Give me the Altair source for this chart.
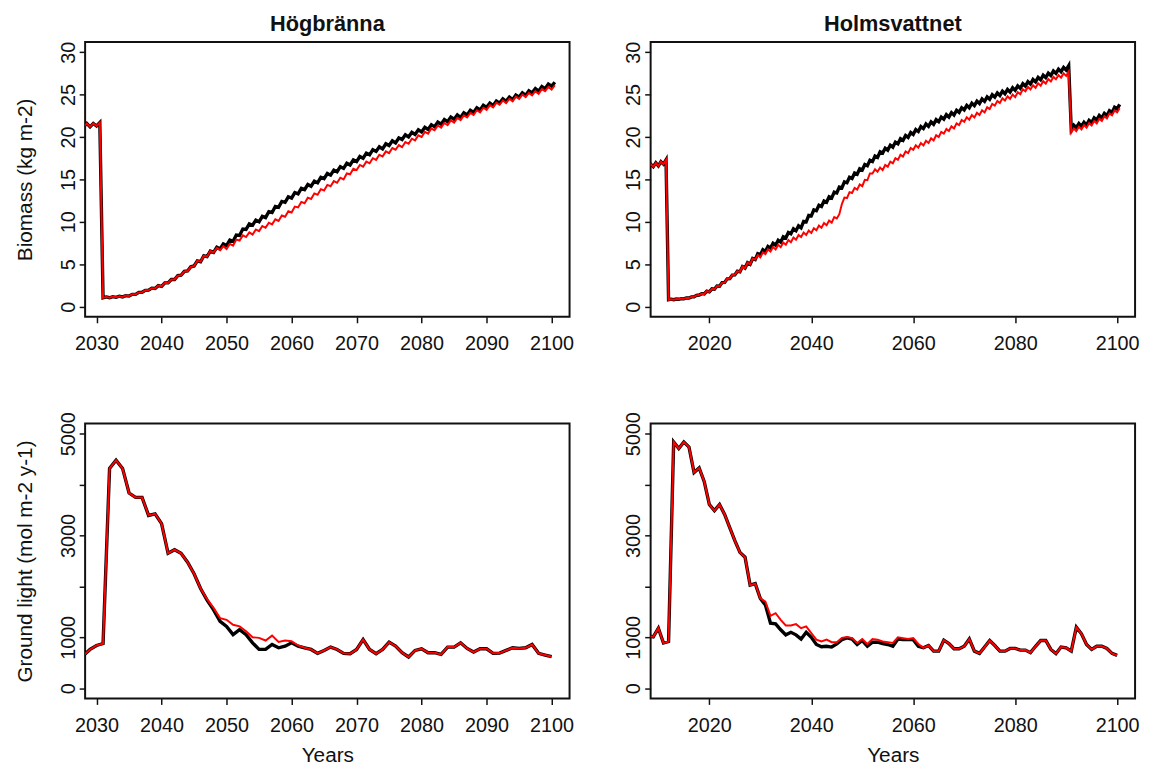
import altair as alt
import pandas as pd

FONT = "Liberation Sans"

# ---------------- Biomass, Högbränna (years 2028..2100; low at year, high at year+0.5)
hog_bio_years = list(range(2028, 2101))
hog_bio_black_low = [21.2, 21.2, 21.3,
    1.05, 1.05, 1.1, 1.15, 1.25, 1.45, 1.7, 1.95, 2.15, 2.4,
    2.8, 3.2, 3.7, 4.2, 4.8, 5.3, 5.9, 6.4, 6.8, 7.2,
    7.7, 8.4, 9.1, 9.6, 10.0, 10.5, 11.1, 11.7, 12.3, 12.8,
    13.3, 13.8, 14.2, 14.6, 15.1, 15.5, 15.9, 16.3, 16.7, 17.1,
    17.5, 17.9, 18.3, 18.6, 19.0, 19.3, 19.7, 20.0, 20.3, 20.6,
    20.9, 21.2, 21.5, 21.8, 22.1, 22.3, 22.6, 22.9, 23.2, 23.5,
    23.7, 24.0, 24.2, 24.4, 24.7, 24.9, 25.2, 25.4, 25.7, 26.0]
hog_bio_black_high = [21.6, 21.6, 21.7,
    1.15, 1.18, 1.23, 1.3, 1.45, 1.68, 1.93, 2.18, 2.48, 2.8,
    3.2, 3.65, 4.15, 4.7, 5.4, 6.0, 6.55, 7.0, 7.4, 7.85,
    8.45, 9.15, 9.75, 10.2, 10.65, 11.2, 11.8, 12.4, 12.95, 13.45,
    13.95, 14.4, 14.8, 15.25, 15.7, 16.1, 16.5, 16.9, 17.3, 17.7,
    18.1, 18.5, 18.85, 19.2, 19.55, 19.9, 20.25, 20.55, 20.85, 21.15,
    21.45, 21.75, 22.05, 22.35, 22.6, 22.85, 23.15, 23.45, 23.75, 24.0,
    24.25, 24.5, 24.7, 24.95, 25.2, 25.45, 25.7, 25.95, 26.25, 26.45]
hog_bio_red_low = [21.2, 21.2, 21.3,
    1.05, 1.05, 1.1, 1.15, 1.25, 1.45, 1.7, 1.95, 2.15, 2.4,
    2.8, 3.2, 3.7, 4.2, 4.8, 5.3, 5.9, 6.4, 6.65, 6.8,
    7.2, 7.8, 8.2, 8.5, 8.9, 9.3, 9.7, 10.1, 10.6, 11.1,
    11.7, 12.2, 12.7, 13.2, 13.7, 14.2, 14.6, 15.0, 15.6, 16.1,
    16.5, 16.9, 17.3, 17.7, 18.1, 18.5, 18.8, 19.2, 19.6, 20.0,
    20.4, 20.8, 21.1, 21.4, 21.7, 22.0, 22.3, 22.6, 22.9, 23.2,
    23.5, 23.8, 24.0, 24.2, 24.5, 24.7, 24.9, 25.1, 25.4, 25.6]
hog_bio_red_high = [21.6, 21.6, 21.7,
    1.15, 1.18, 1.23, 1.3, 1.45, 1.68, 1.93, 2.18, 2.48, 2.8,
    3.2, 3.65, 4.15, 4.7, 5.4, 6.0, 6.55, 6.93, 7.13, 7.4,
    7.9, 8.4, 8.75, 9.1, 9.5, 9.9, 10.3, 10.75, 11.25, 11.8,
    12.35, 12.85, 13.35, 13.85, 14.35, 14.8, 15.2, 15.7, 16.25, 16.7,
    17.1, 17.5, 17.9, 18.3, 18.7, 19.05, 19.4, 19.8, 20.2, 20.6,
    21.0, 21.35, 21.65, 21.95, 22.25, 22.55, 22.85, 23.15, 23.45, 23.75,
    24.05, 24.3, 24.5, 24.75, 25.0, 25.2, 25.4, 25.65, 25.9, 26.1]

# ---------------- Biomass, Holmsvattnet (years 2008..2100)
hol_bio_years = list(range(2008, 2101))
hol_bio_black_low = [16.3, 16.5, 16.6, 16.8,
    0.82, 0.82, 0.87, 0.92, 1.02, 1.17, 1.37, 1.5, 1.75, 2.05,
    2.4, 2.85, 3.3, 3.75, 4.1, 4.55, 5.0, 5.55, 6.1, 6.5,
    6.9, 7.25, 7.6, 8.1, 8.6, 8.95, 9.3, 10.0, 10.7, 11.3,
    11.8, 12.3, 12.8, 13.4, 14.0, 14.6, 15.1, 15.6, 16.1, 16.6,
    17.1, 17.6, 18.1, 18.45, 18.8, 19.2, 19.6, 19.95, 20.3, 20.65,
    21.0, 21.25, 21.5, 21.8, 22.1, 22.35, 22.6, 22.9, 23.2, 23.45,
    23.7, 23.95, 24.2, 24.45, 24.7, 24.9, 25.1, 25.3, 25.5, 25.75,
    26.0, 26.25, 26.5, 26.75, 27.0, 27.25, 27.5, 27.7, 27.9, 20.9,
    21.1, 21.25, 21.4, 21.7, 22.0, 22.25, 22.5, 22.9, 23.3]
hol_bio_black_high = [16.8, 16.95, 17.1, 17.3,
    0.88, 0.9, 0.95, 1.03, 1.15, 1.33, 1.53, 1.83, 2.1, 2.43,
    2.83, 3.28, 3.73, 4.18, 4.73, 5.18, 5.68, 6.23, 6.7, 7.1,
    7.48, 7.83, 8.25, 8.75, 9.18, 9.53, 10.05, 10.75, 11.4, 11.95,
    12.45, 12.95, 13.5, 14.1, 14.7, 15.25, 15.75, 16.25, 16.75, 17.25,
    17.75, 18.25, 18.68, 19.03, 19.4, 19.8, 20.18, 20.53, 20.88, 21.23,
    21.53, 21.78, 22.05, 22.35, 22.63, 22.88, 23.15, 23.45, 23.73, 23.98,
    24.23, 24.48, 24.73, 24.98, 25.2, 25.4, 25.6, 25.8, 26.03, 26.28,
    26.53, 26.78, 27.03, 27.28, 27.53, 27.78, 28.0, 28.2, 28.4, 21.4,
    21.58, 21.73, 21.95, 22.25, 22.53, 22.78, 23.1, 23.5, 23.85]
hol_bio_red_low = [16.3, 16.5, 16.6, 16.8,
    0.82, 0.82, 0.87, 0.92, 1.02, 1.17, 1.37, 1.5, 1.75, 2.05,
    2.4, 2.85, 3.3, 3.75, 4.1, 4.55, 5.0, 5.55,
    5.8, 6.2, 6.5, 6.75, 7.0, 7.3, 7.6, 7.9, 8.2, 8.45,
    8.7, 9.0, 9.3, 9.6, 9.9, 10.4, 12.1, 12.8, 13.4, 13.8,
    14.2, 14.9, 15.7, 15.9, 16.1, 16.5, 16.9, 17.3, 17.7, 18.1,
    18.5, 18.75, 19.0, 19.3, 19.6, 20.0, 20.4, 20.7, 21.0, 21.4,
    21.8, 22.05, 22.3, 22.6, 22.9, 23.3, 23.7, 24.0, 24.3, 24.5,
    24.7, 25.05, 25.4, 25.6, 25.8, 26.05, 26.3, 26.55, 26.8, 27.0,
    27.2, 20.5, 20.7, 20.9, 21.1, 21.35, 21.6, 21.9, 22.2, 22.55, 22.9]
hol_bio_red_high = [16.8, 16.95, 17.1, 17.3,
    0.88, 0.9, 0.95, 1.03, 1.15, 1.33, 1.53, 1.83, 2.1, 2.43,
    2.83, 3.28, 3.73, 4.18, 4.73, 5.18, 5.68,
    6.08, 6.4, 6.75, 7.03, 7.28, 7.55, 7.85, 8.15, 8.45, 8.73,
    8.98, 9.25, 9.55, 9.85, 10.15, 10.55, 10.9, 12.85, 13.5, 14.0,
    14.4, 14.95, 15.7, 16.2, 16.4, 16.7, 17.1, 17.5, 17.9, 18.3,
    18.7, 19.03, 19.28, 19.55, 19.85, 20.2, 20.6, 20.95, 21.25, 21.6,
    22.0, 22.33, 22.58, 22.85, 23.15, 23.5, 23.9, 24.25, 24.55, 24.8,
    25.0, 25.28, 25.63, 25.9, 26.1, 26.33, 26.58, 26.83, 27.08, 27.3,
    27.5, 27.7, 21.0, 21.2, 21.4, 21.63, 21.88, 22.15, 22.45, 22.78, 23.13, 23.4]

# ---------------- Ground light, Högbränna (years 2028..2100)
hog_light_years = list(range(2028, 2101))
hog_light_black = [647, 763, 841, 880, 4320, 4480, 4320, 3836, 3750, 3750,
    3396, 3428, 3234, 2652, 2723, 2652, 2477, 2250, 1960, 1733,
    1540, 1313, 1216, 1054, 1151, 1054, 893, 763, 763, 860,
    796, 828, 893, 828, 796, 763, 686, 744, 809, 763,
    686, 679, 763, 957, 763, 679, 763, 906, 828, 699,
    615, 744, 776, 699, 699, 666, 809, 809, 893, 783,
    712, 776, 776, 686, 692, 744, 796, 783, 796, 860,
    686, 653, 621]
hog_light_red = [647, 763, 841, 880, 4320, 4480, 4320, 3836, 3750, 3750,
    3396, 3428, 3234, 2652, 2723, 2652, 2477, 2250, 1960, 1750,
    1580, 1378, 1345, 1248, 1216, 1119, 1003, 990, 938, 1035,
    912, 938, 925, 841, 796, 763, 686, 744, 809, 763,
    686, 679, 763, 957, 763, 679, 763, 906, 828, 699,
    615, 744, 776, 699, 699, 666, 809, 809, 893, 783,
    712, 776, 776, 686, 692, 744, 796, 783, 796, 860,
    686, 653, 621]

# ---------------- Ground light, Holmsvattnet (years 2008..2100)
hol_light_years = list(range(2008, 2101))
hol_light_black = [1030, 1010, 1180, 890, 920, 4840, 4710, 4840, 4740, 4240,
    4330, 4060, 3610, 3490, 3610, 3415, 3157, 2900, 2670, 2575,
    2025, 2055, 1765, 1636, 1280, 1265, 1150, 1050, 1100, 1050,
    968, 1100, 1000, 860, 815, 825, 810, 870, 955, 990,
    968, 860, 938, 825, 905, 905, 880, 860, 825, 968,
    955, 955, 955, 825, 795, 840, 730, 730, 945, 880,
    776, 776, 825, 968, 730, 686, 810, 938, 840, 730,
    730, 783, 783, 750, 750, 700, 825, 938, 938, 763,
    680, 810, 795, 730, 1200, 1070, 860, 763, 825, 825,
    783, 686, 647]
hol_light_red = [1030, 1010, 1180, 890, 920, 4840, 4710, 4840, 4740, 4240,
    4330, 4060, 3610, 3490, 3610, 3415, 3157, 2900, 2670, 2575,
    2025, 2055, 1765, 1700, 1423, 1475, 1345, 1235, 1235, 1260,
    1180, 1215, 1085, 955, 920, 955, 905, 905, 990, 1005,
    985, 890, 968, 870, 968, 955, 920, 905, 890, 1000,
    985, 968, 985, 870, 795, 840, 730, 730, 945, 880,
    776, 776, 825, 968, 730, 686, 810, 938, 840, 730,
    730, 783, 783, 750, 750, 700, 825, 938, 938, 763,
    680, 810, 795, 730, 1200, 1070, 860, 763, 825, 825,
    783, 686, 647]

hog_x_ticks = [2030, 2040, 2050, 2060, 2070, 2080, 2090, 2100]
hol_x_ticks = [2020, 2040, 2060, 2080, 2100]
bio_y_ticks = [0, 5, 10, 15, 20, 25, 30]
light_y_ticks = [0, 1000, 2000, 3000, 4000, 5000]

HOG_XDOM = [2028.24, 2102.76]
HOL_XDOM = [2008.48, 2103.52]
BIO_YDOM = [-1.2, 31.2]
LIGHT_YDOM = [-200, 5200]

W, H = 490, 278
INK = "#111111"


def zigzag(years, low, high):
    xs, ys = [], []
    for yr, lo, hi in zip(years, low, high):
        xs += [yr, yr + 0.5]
        ys += [lo, hi]
    return pd.DataFrame({"x": xs, "y": ys})


def annual(years, vals):
    return pd.DataFrame({"x": years, "y": vals})


def panel(df_black, df_red, xdom, xticks, ydom, yticks, ytitle=None,
          xtitle=None, title=None, hide_labels=None):
    xaxis = dict(values=xticks, format="d", domain=False, grid=False,
                 tickSize=6, tickWidth=1.5, tickColor=INK,
                 labelFontSize=20, labelFont=FONT, labelColor=INK,
                 labelPadding=11, labelOverlap=False,
                 titleFontSize=21, titleFont=FONT, titleFontWeight="normal",
                 titleColor=INK, titlePadding=10)
    yaxis = dict(values=yticks, format="d", domain=False, grid=False,
                 tickSize=6, tickWidth=1.5, tickColor=INK,
                 labelFontSize=20, labelFont=FONT, labelColor=INK,
                 labelAngle=270, labelAlign="center", labelBaseline="alphabetic",
                 labelPadding=5, labelOverlap=False,
                 titleFontSize=21, titleFont=FONT, titleFontWeight="normal",
                 titleColor=INK, titlePadding=23)
    if hide_labels:
        cond = " || ".join(f"datum.value == {v}" for v in hide_labels)
        yaxis["labelExpr"] = f"({cond}) ? '' : datum.label"

    def enc(ch):
        return ch.encode(
            x=alt.X("x:Q", scale=alt.Scale(domain=xdom, nice=False, zero=False),
                    axis=alt.Axis(**xaxis), title=xtitle),
            y=alt.Y("y:Q", scale=alt.Scale(domain=ydom, nice=False, zero=False),
                    axis=alt.Axis(**yaxis), title=ytitle),
        )

    black = enc(alt.Chart(df_black).mark_line(color="#000000", strokeWidth=3.4, clip=True))
    red = enc(alt.Chart(df_red).mark_line(color="#ff0000", strokeWidth=2, clip=True))
    layer = alt.layer(black, red).properties(width=W, height=H)
    if title:
        layer = layer.properties(title=alt.TitleParams(
            title, fontSize=22, font=FONT, fontWeight="bold", color=INK, offset=5))
    return layer


tl = panel(zigzag(hog_bio_years, hog_bio_black_low, hog_bio_black_high),
           zigzag(hog_bio_years, hog_bio_red_low, hog_bio_red_high),
           HOG_XDOM, hog_x_ticks, BIO_YDOM, bio_y_ticks,
           ytitle="Biomass (kg m-2)", title="Högbränna")
tr = panel(zigzag(hol_bio_years, hol_bio_black_low, hol_bio_black_high),
           zigzag(hol_bio_years, hol_bio_red_low, hol_bio_red_high),
           HOL_XDOM, hol_x_ticks, BIO_YDOM, bio_y_ticks,
           title="Holmsvattnet")
bl = panel(annual(hog_light_years, hog_light_black),
           annual(hog_light_years, hog_light_red),
           HOG_XDOM, hog_x_ticks, LIGHT_YDOM, light_y_ticks,
           ytitle="Ground light (mol m-2 y-1)", xtitle="Years",
           hide_labels=[2000, 4000])
br = panel(annual(hol_light_years, hol_light_black),
           annual(hol_light_years, hol_light_red),
           HOL_XDOM, hol_x_ticks, LIGHT_YDOM, light_y_ticks,
           xtitle="Years", hide_labels=[2000, 4000])

row1 = alt.hconcat(tl, tr, spacing=82, bounds="flush")
row2 = alt.hconcat(bl, br, spacing=82, bounds="flush")
chart = alt.vconcat(row1, row2, spacing=57).properties(
    padding={"left": 5, "top": 0, "right": 0, "bottom": 0},
    background="white",
).configure(
    font=FONT,
    view=alt.ViewConfig(stroke=INK, strokeWidth=2),
)

chart.save("out.html", embed_options={"renderer": "svg", "actions": False})
